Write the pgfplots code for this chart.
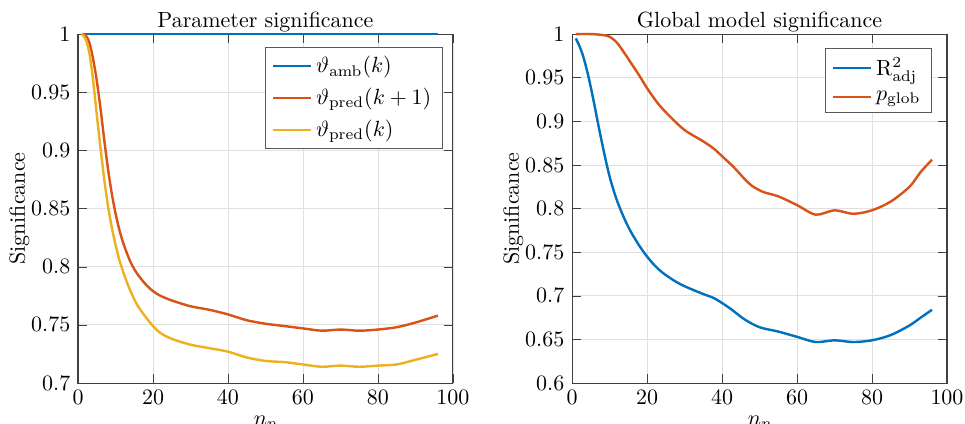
\documentclass[border=0pt]{standalone}
\usepackage{pgfplots}
\pgfplotsset{compat=1.18}
\definecolor{mblue}{rgb}{0,0.447,0.741}
\definecolor{mred}{rgb}{0.85,0.325,0.098}
\definecolor{myellow}{rgb}{0.929,0.694,0.125}
\pgfplotsset{
  common/.style={
    scale only axis, width=170.6pt, height=158.8pt,
    xmin=0, xmax=100, xtick={0,20,...,100},
    tick align=inside, grid=major,
    major grid style={color=black!12, line width=0.4pt},
    axis line style={color=black!75, line width=0.5pt},
    major tick style={color=black!75},
    ylabel={Significance}, xlabel={$n_p$},
    title style={yshift=-8.5pt},
    ylabel style={yshift=-6pt},
    legend cell align=left,
    legend style={draw=black!65, line width=0.5pt, row sep=1.5pt, font=\normalsize},
    legend image post style={line width=1.1pt},
    every axis plot/.append style={line width=1.1pt, smooth, no markers},
    yticklabel style={/pgf/number format/fixed, /pgf/number format/precision=2},
    xlabel style={yshift=2pt},
    clip=false,
  }
}
\begin{document}
\begin{tikzpicture}
\begin{axis}[common, at={(0,0)}, anchor=south west,
  ymin=0.7, ymax=1, ytick={0.7,0.75,...,1.001},
  title={Parameter significance},
  legend style={at={(rel axis cs:0.973,0.963)}, anchor=north east}]
\addplot[mblue] coordinates {(1,1) (96,1)};
\addlegendentry{$\vartheta_{\mathrm{amb}}(k)$}
\addplot[mred] coordinates {
(1,1.0) (2,0.999) (3,0.993) (4,0.979) (5,0.960) (6,0.936) (7,0.909) (8,0.884) (9,0.863) (10,0.846)
(11,0.832) (12,0.821) (13,0.812) (14,0.804) (15,0.798) (16,0.793) (18,0.785) (20,0.779) (22,0.775)
(25,0.771) (30,0.766) (35,0.763)
(40,0.759) (45,0.754) (50,0.751) (55,0.749) (60,0.747) (65,0.745) (70,0.746) (75,0.745) (80,0.746)
(85,0.748) (90,0.752) (96,0.758)};
\addlegendentry{$\vartheta_{\mathrm{pred}}(k+1)$}
\addplot[myellow] coordinates {
(1,1.0) (2,0.996) (3,0.984) (4,0.961) (5,0.931) (6,0.902) (7,0.875) (8,0.852) (9,0.834) (10,0.819)
(11,0.806) (12,0.796) (13,0.787) (14,0.779) (15,0.772) (16,0.766) (18,0.757) (20,0.749) (22,0.743)
(25,0.738) (30,0.733) (35,0.730)
(40,0.727) (45,0.722) (50,0.719) (55,0.718) (60,0.716) (65,0.714) (70,0.715) (75,0.714) (80,0.715)
(85,0.716) (90,0.720) (96,0.725)};
\addlegendentry{$\vartheta_{\mathrm{pred}}(k)$}
\end{axis}
\begin{axis}[common, at={(224.8pt,0)}, anchor=south west,
  ymin=0.6, ymax=1, ytick={0.6,0.65,...,1.001},
  title={Global model significance},
  legend style={at={(rel axis cs:0.96,0.96)}, anchor=north east}]
\addplot[mblue] coordinates {
(1,0.995) (2,0.986) (3,0.974) (4,0.958) (5,0.939) (6,0.918) (7,0.896) (8,0.875) (9,0.855) (10,0.837)
(11,0.822) (12,0.809) (13,0.798) (14,0.788) (15,0.779) (16,0.771) (18,0.757) (20,0.745) (22,0.735)
(24,0.727) (27,0.718) (30,0.711) (35,0.702) (38,0.697) (42,0.686) (46,0.673) (50,0.664) (55,0.659)
(60,0.653) (65,0.647) (70,0.649) (75,0.647) (80,0.649) (85,0.655) (90,0.666) (93,0.675) (96,0.684)};
\addlegendentry{$\mathrm{R}^2_{\mathrm{adj}}$}
\addplot[mred] coordinates {
(1,1.0) (5,1.0) (8,0.999) (10,0.997) (12,0.990) (14,0.978) (16,0.965) (18,0.952) (20,0.938)
(23,0.920) (26,0.906) (30,0.890) (35,0.877) (38,0.868) (40,0.860) (43,0.848) (46,0.834) (48,0.826)
(51,0.819) (55,0.814)
(60,0.804) (65,0.793) (70,0.798) (75,0.794) (80,0.798) (85,0.808) (90,0.825) (93,0.842) (96,0.856)};
\addlegendentry{$p_{\mathrm{glob}}$}
\end{axis}
\pgfresetboundingbox
\useasboundingbox (-35.5pt,-18.2pt) rectangle (403.6pt,174.3pt);
\end{tikzpicture}
\end{document}
